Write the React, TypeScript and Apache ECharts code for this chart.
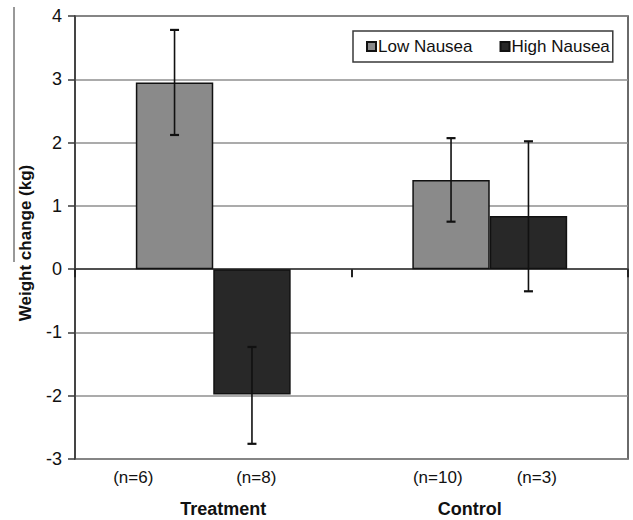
import React, { useEffect, useRef } from "react";
import * as echarts from "echarts";

const categories = ["Treatment", "Control"];
const seriesNames = ["Low Nausea", "High Nausea"];
const lowMeans = [2.95, 1.41];
const highMeans = [-1.98, 0.84];
const lowErrLow = [2.12, 0.75];
const lowErrHigh = [3.78, 2.07];
const highErrLow = [-2.76, -0.35];
const highErrHigh = [-1.23, 2.02];
const nLabels = [["(n=6)", "(n=8)"], ["(n=10)", "(n=3)"]];
const yTicks = [-3, -2, -1, 0, 1, 2, 3, 4];

const BAR_FRAC = 0.28;

export default function App() {
  const ref = useRef<HTMLDivElement>(null);
  useEffect(() => {
    if (!ref.current) return;
    const chart = echarts.init(ref.current, undefined, { renderer: "svg" });
    const font = "'Liberation Sans', Arial, sans-serif";

    const errSeries = (name: string, lo: number[], hi: number[], sign: number) => ({
      type: "custom",
      name: name + " error",
      xAxisIndex: 0,
      yAxisIndex: 0,
      z: 5,
      silent: true,
      encode: { x: 0, y: [1, 2] },
      data: categories.map((_, i) => [i, lo[i], hi[i]]),
      renderItem: (params: any, api: any) => {
        const cat = api.value(0);
        const a = api.coord([cat, api.value(1)]);
        const b = api.coord([cat, api.value(2)]);
        const band = api.size([1, 0])[0];
        const x = a[0] + (sign * band * BAR_FRAC) / 2;
        const cap = 4.5;
        const st = { stroke: "#111", lineWidth: 1.6 };
        return {
          type: "group",
          children: [
            { type: "line", shape: { x1: x, y1: a[1], x2: x, y2: b[1] }, style: st },
            { type: "line", shape: { x1: x - cap, y1: a[1], x2: x + cap, y2: a[1] }, style: { ...st, lineWidth: 2.2 } },
            { type: "line", shape: { x1: x - cap, y1: b[1], x2: x + cap, y2: b[1] }, style: { ...st, lineWidth: 2.2 } },
          ],
        };
      },
    });

    const labelFormatter = (value: string, idx: number) => {
      const nl = nLabels[idx];
      if (idx === 0) {
        return `{n|${nl[0]}}{s1| }{n|${nl[1]}}{s2| }\n{p1| }{t|${value}}{p2| }`;
      }
      return `{s3| }{n|${nl[0]}}{s4| }{n|${nl[1]}}{s5| }\n{q1| }{t|${value}}{q2| }`;
    };

    const rich: any = {
      n: { fontFamily: font, fontSize: 17, color: "#111", width: 80, align: "center", lineHeight: 32 },
      t: { fontFamily: font, fontSize: 18, fontWeight: "bold", color: "#111", width: 200, align: "center", lineHeight: 32 },
      s1: { width: 43, align: "center", lineHeight: 32 },
      s2: { width: 37, align: "center", lineHeight: 32 },
      p1: { width: 30, align: "center", lineHeight: 32 },
      p2: { width: 10, align: "center", lineHeight: 32 },
      s3: { width: 28, align: "center", lineHeight: 32 },
      s4: { width: 19, align: "center", lineHeight: 32 },
      s5: { width: 33, align: "center", lineHeight: 32 },
      q1: { width: 0, align: "center", lineHeight: 32 },
      q2: { width: 40, align: "center", lineHeight: 32 },
    };

    chart.setOption({
      animation: false,
      backgroundColor: "#ffffff",
      grid: {
        left: 75,
        right: 5,
        top: 16,
        bottom: 61,
        show: true,
        borderColor: "#3a3a3a",
        borderWidth: 1.5,
        backgroundColor: "transparent",
      },
      legend: {
        data: seriesNames,
        left: 353,
        top: 31,
        orient: "horizontal",
        icon: "rect",
        itemWidth: 9,
        itemHeight: 9,
        itemGap: 27,
        padding: [7, 3, 7, 13],
        backgroundColor: "#ffffff",
        borderColor: "#3a3a3a",
        borderWidth: 1.5,
        borderRadius: 0,
        textStyle: { fontFamily: font, fontSize: 17, color: "#111", padding: [0, 0, 0, -3] },
      },
      xAxis: [
        {
          type: "category",
          data: categories,
          position: "bottom",
          axisLine: { show: false, onZero: false },
          axisTick: { show: false },
          splitLine: { show: false },
          axisLabel: {
            margin: 2,
            interval: 0,
            formatter: labelFormatter,
            rich,
          },
        },
        {
          type: "category",
          data: categories,
          position: "top",
          axisLine: { show: true, onZero: true, lineStyle: { color: "#333", width: 1.5 } },
          axisTick: { show: true, inside: true, length: 8, lineStyle: { color: "#222", width: 2 } },
          axisLabel: { show: false },
          splitLine: { show: false },
        },
      ],
      yAxis: {
        type: "value",
        min: yTicks[0],
        max: yTicks[yTicks.length - 1],
        interval: 1,
        axisLine: { show: true, lineStyle: { color: "#3a3a3a", width: 1.5 } },
        axisTick: { show: true, length: 7, lineStyle: { color: "#3a3a3a", width: 1.5 } },
        axisLabel: { fontFamily: font, fontSize: 18, color: "#111", margin: 13 },
        splitLine: { show: true, lineStyle: { color: "#8f8f8f", width: 1.6 } },
      },
      graphic: [
        {
          type: "text",
          x: 25,
          y: 243,
          rotation: Math.PI / 2,
          style: {
            text: "Weight change (kg)",
            fontFamily: font,
            fontSize: 17,
            fontWeight: "bold",
            fill: "#111",
            align: "center",
            verticalAlign: "middle",
          },
        },
        {
          type: "line",
          shape: { x1: 14, y1: 7, x2: 14, y2: 262 },
          style: { stroke: "#333", lineWidth: 1 },
        },
      ],
      series: [
        {
          name: seriesNames[0],
          type: "bar",
          xAxisIndex: 0,
          data: lowMeans,
          barWidth: `${BAR_FRAC * 100}%`,
          barGap: "0%",
          itemStyle: { color: "#8a8a8a", borderColor: "#111", borderWidth: 1.5 },
        },
        {
          name: seriesNames[1],
          type: "bar",
          xAxisIndex: 0,
          data: highMeans,
          barWidth: `${BAR_FRAC * 100}%`,
          barGap: "0%",
          itemStyle: { color: "#282828", borderColor: "#111", borderWidth: 1.5 },
        },
        errSeries(seriesNames[0], lowErrLow, lowErrHigh, -1),
        errSeries(seriesNames[1], highErrLow, highErrHigh, 1),
      ],
    });
    return () => chart.dispose();
  }, []);
  return <div ref={ref} style={{ width: 633, height: 520, position: "absolute", left: 0, top: 0 }} />;
}
